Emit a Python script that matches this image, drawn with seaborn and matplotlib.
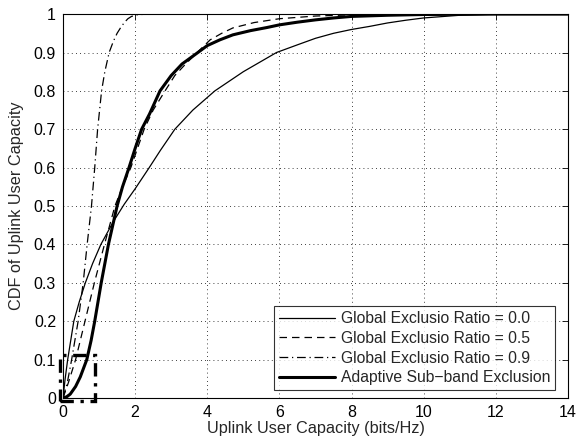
import matplotlib
matplotlib.use("Agg")
import matplotlib.pyplot as plt
import seaborn as sns
import pandas as pd
from matplotlib.patches import Rectangle

# ---- data ----
labels = ["Global Exclusio Ratio = 0.0", "Global Exclusio Ratio = 0.5",
          "Global Exclusio Ratio = 0.9", "Adaptive Sub\u2212band Exclusion"]

x_r00 = [0, 0.06, 0.13, 0.3, 0.45, 0.62, 0.82, 1.05, 1.4, 1.7, 2.0, 2.39, 2.7, 3.1, 3.6, 4.21,
         5.0, 5.92, 6.5, 7.0, 7.5, 8.0, 8.5, 9.0, 9.5, 10.0, 11.0, 12.0, 14.0]
y_r00 = [0, 0.05, 0.1, 0.2, 0.25, 0.3, 0.35, 0.4, 0.46, 0.505, 0.545, 0.6, 0.645, 0.7, 0.75, 0.8,
         0.85, 0.9, 0.92, 0.937, 0.95, 0.96, 0.968, 0.977, 0.984, 0.99, 0.997, 1.0, 1.0]

x_r05 = [0, 0.15, 0.35, 0.61, 0.87, 1.15, 1.44, 1.65, 1.88, 2.25, 2.5, 2.83, 3.1, 3.4, 3.72,
         4.08, 4.4, 4.71, 5.3, 6.0, 7.0, 8.0, 9.0, 14.0]
y_r05 = [0, 0.04, 0.1, 0.2, 0.3, 0.4, 0.5, 0.55, 0.6, 0.7, 0.75, 0.8, 0.84, 0.87, 0.9,
         0.933, 0.95, 0.964, 0.978, 0.988, 0.995, 0.998, 1.0, 1.0]

x_r09 = [0, 0.12, 0.24, 0.42, 0.56, 0.67, 0.79, 0.88, 0.96, 1.07, 1.16, 1.28, 1.40, 1.5,
         1.6, 1.7, 1.8, 1.9, 2.05, 2.3, 14.0]
y_r09 = [0, 0.04, 0.1, 0.2, 0.3, 0.4, 0.5, 0.6, 0.7, 0.8, 0.85, 0.9, 0.93, 0.95,
         0.965, 0.978, 0.988, 0.994, 0.998, 1.0, 1.0]

x_ada = [0, 0.1, 0.2, 0.35, 0.48, 0.58, 0.66, 0.78, 0.88, 1.06, 1.26, 1.5, 1.65, 1.83, 2.0,
         2.18, 2.4, 2.69, 3.0, 3.3, 3.74, 4.0, 4.35, 4.71, 5.2, 5.65, 6.0, 6.5, 7.0, 7.5,
         8.0, 9.0, 10.0, 12.0, 14.0]
y_ada = [0, 0.003, 0.01, 0.03, 0.055, 0.08, 0.1, 0.15, 0.2, 0.3, 0.4, 0.5, 0.55, 0.6, 0.65,
         0.7, 0.74, 0.8, 0.84, 0.87, 0.9, 0.918, 0.933, 0.946, 0.957, 0.965, 0.972, 0.979, 0.985, 0.99,
         0.994, 0.997, 0.999, 1.0, 1.0]

# zoom box drawn in the original figure (x0, x1, y0, y1)
box_x = [-0.08, 0.89]
box_y = [-0.008, 0.112]

x_ticks = [0, 2, 4, 6, 8, 10, 12, 14]
y_ticks = [0, 0.1, 0.2, 0.3, 0.4, 0.5, 0.6, 0.7, 0.8, 0.9, 1.0]
y_ticklabels = ["0", "0.1", "0.2", "0.3", "0.4", "0.5", "0.6", "0.7", "0.8", "0.9", "1"]

# ---- plotting ----
sns.set_theme(style="white")
plt.rcParams['font.family'] = ['Liberation Sans', 'DejaVu Sans']
plt.rcParams['axes.unicode_minus'] = True

fig = plt.figure(figsize=(5.81, 4.41), dpi=100)
ax = fig.add_axes([0.1084, 0.0975, 0.8692, 0.8705])

series = [
    (x_r00, y_r00, dict(linestyle="-", linewidth=0.9)),
    (x_r05, y_r05, dict(linestyle=(0, (6, 4)), linewidth=0.9)),
    (x_r09, y_r09, dict(linestyle=(0, (7, 3, 1, 3)), linewidth=0.9)),
    (x_ada, y_ada, dict(linestyle="-", linewidth=2.2)),
]
for (xs, ys, st), lab in zip(series, labels):
    df = pd.DataFrame({"x": xs, "y": ys})
    sns.lineplot(data=df, x="x", y="y", ax=ax, color="black", label=lab,
                 estimator=None, sort=False, **st)

ax.add_patch(Rectangle((box_x[0], box_y[0]), box_x[1] - box_x[0], box_y[1] - box_y[0],
                       fill=False, edgecolor="black", linewidth=2.4,
                       linestyle=(0, (4, 2, 1, 2)), clip_on=False, zorder=5))

ax.set_xlim(0, 14)
ax.set_ylim(0, 1)
ax.set_xticks(x_ticks)
ax.set_yticks(y_ticks)
ax.set_yticklabels(y_ticklabels)
ax.set_xlabel("Uplink User Capacity (bits/Hz)", fontsize=11.7, labelpad=1)
ax.set_ylabel("CDF of Uplink User Capacity", fontsize=11.7, labelpad=7)
ax.tick_params(direction="in", top=True, right=True, labelsize=11.5,
               length=4, width=0.6, pad=5, colors="black")
ax.grid(True, color="black", linestyle=(0, (1, 4)), linewidth=0.6)
for sp in ax.spines.values():
    sp.set_color("black")
    sp.set_linewidth(0.8)

leg = ax.legend(loc="lower right", bbox_to_anchor=(0.974, 0.021), fontsize=11.3,
                frameon=True, fancybox=False, edgecolor="black", handlelength=3.6,
                borderpad=0.3, labelspacing=0.3, handletextpad=0.35, borderaxespad=0)
leg.get_frame().set_linewidth(0.8)

fig.savefig("out.png", dpi=100)
